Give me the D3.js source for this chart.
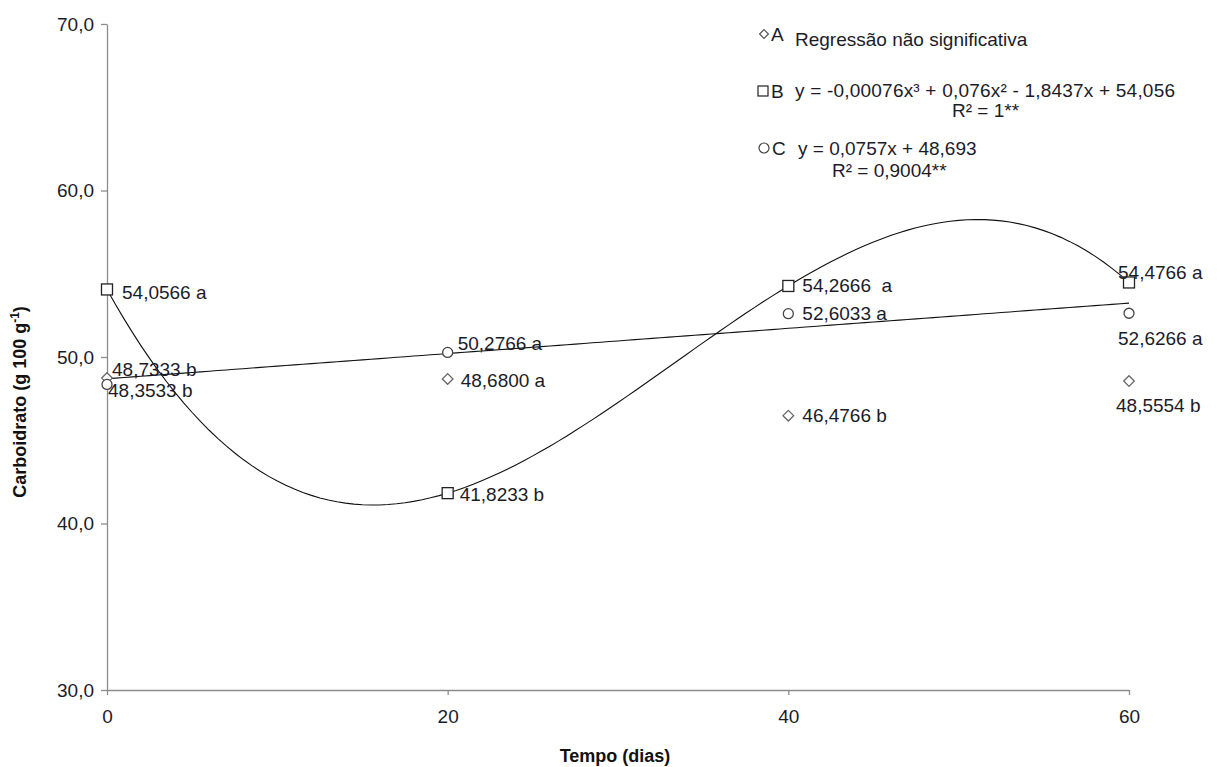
<!DOCTYPE html>
<html><head><meta charset="utf-8">
<script src="https://cdn.jsdelivr.net/npm/d3@7"></script>
<style>
body{margin:0;background:#fff;}
text{font-family:"Liberation Sans",Arial,sans-serif;}
</style></head>
<body><svg id="c" width="1221" height="767"></svg>
<script>
const days = [0, 20, 40, 60];
const seriesA = [48.7333, 48.6800, 46.4766, 48.5554];
const seriesB = [54.0566, 41.8233, 54.2666, 54.4766];
const seriesC = [48.3533, 50.2766, 52.6033, 52.6266];
const labelsA = ["48,7333 b", "48,6800 a", "46,4766 b", "48,5554 b"];
const labelsB = ["54,0566 a", "41,8233 b", "54,2666  a", "54,4766 a"];
const labelsC = ["48,3533 b", "50,2766 a", "52,6033 a", "52,6266 a"];
const yTicks = [30, 40, 50, 60, 70];
const xTicks = [0, 20, 40, 60];

const svg = d3.select("#c");
const x = d3.scaleLinear().domain([0, 60]).range([107, 1129]);
const y = d3.scaleLinear().domain([30, 70]).range([690, 24]);
const fmt = v => d3.format(".1f")(v).replace(".", ",");
const axisCol = "#8c8c8c";
const txtCol = "#1c1c28";
const FS = "19px";

// axes
const ya = svg.append("g").attr("transform", "translate(107,0)")
  .call(d3.axisLeft(y).tickValues(yTicks).tickFormat(fmt).tickSize(6).tickSizeOuter(0));
const xa = svg.append("g").attr("transform", "translate(0,690)")
  .call(d3.axisBottom(x).tickValues(xTicks).tickSize(5).tickSizeOuter(0));
[ya, xa].forEach(g => {
  g.select(".domain").attr("stroke", axisCol).attr("stroke-width", 1.3);
  g.selectAll(".tick line").attr("stroke", axisCol).attr("stroke-width", 1.3);
  g.selectAll(".tick text").attr("fill", txtCol).style("font-size", FS)
    .style("font-family", "Liberation Sans, Arial, sans-serif");
});
ya.selectAll(".tick text").attr("x", -13);
xa.selectAll(".tick text").attr("y", 20);

// regression fits (least squares)
function polyfit(xs, ys, deg) {
  const n = deg + 1;
  const A = [];
  for (let i = 0; i < n; i++) {
    A.push([]);
    for (let j = 0; j < n; j++) A[i].push(d3.sum(xs, xv => Math.pow(xv, i + j)));
    A[i].push(d3.sum(xs, (xv, k) => Math.pow(xv, i) * ys[k]));
  }
  for (let i = 0; i < n; i++) {
    let p = i;
    for (let r = i + 1; r < n; r++) if (Math.abs(A[r][i]) > Math.abs(A[p][i])) p = r;
    [A[i], A[p]] = [A[p], A[i]];
    for (let r = 0; r < n; r++) {
      if (r === i) continue;
      const f = A[r][i] / A[i][i];
      for (let c = i; c <= n; c++) A[r][c] -= f * A[i][c];
    }
  }
  return A.map((row, i) => row[n] / row[i]);
}
const coefB = polyfit(days, seriesB, 3);
const coefC = polyfit(days, seriesC, 1);
const evalP = (c, xv) => c.reduce((s, a, i) => s + a * Math.pow(xv, i), 0);
const xs = d3.range(0, 60.01, 0.5);
const line = d3.line().x(d => x(d[0])).y(d => y(d[1]));
svg.append("path").attr("d", line(xs.map(v => [v, evalP(coefB, v)])))
  .attr("fill", "none").attr("stroke", "#111").attr("stroke-width", 1.1);
svg.append("path").attr("d", line(xs.map(v => [v, evalP(coefC, v)])))
  .attr("fill", "none").attr("stroke", "#111").attr("stroke-width", 1.1);

// markers
const mk = svg.append("g").attr("fill", "#fff").attr("stroke", "#333").attr("stroke-width", 1.3);
days.forEach((d, i) => {
  mk.append("path").attr("d", d3.symbol(d3.symbolDiamond2 || d3.symbolDiamond, 72)())
    .attr("transform", `translate(${x(d)},${y(seriesA[i])})`).attr("stroke", "#666");
  mk.append("rect").attr("x", x(d) - 5.5).attr("y", y(seriesB[i]) - 5.5)
    .attr("width", 11).attr("height", 11).attr("stroke", "#222");
  mk.append("circle").attr("cx", x(d)).attr("cy", y(seriesC[i])).attr("r", 5).attr("stroke", "#444");
});

// data labels (offsets relative to markers)
const offA = [[5, -9], [13, 1], [14, 0], [-13, 24]];
const offB = [[15, 3], [12, 1], [14, -1], [-11, -10]];
const offC = [[1, 6], [10, -9], [14, 0], [-11, 25]];
const lab = svg.append("g").attr("fill", txtCol).style("font-size", FS);
function addLabels(vals, labels, off) {
  days.forEach((d, i) => {
    lab.append("text").attr("x", x(d) + off[i][0]).attr("y", y(vals[i]) + off[i][1])
      .attr("dy", "0.35em").style("white-space", "pre").text(labels[i]);
  });
}
addLabels(seriesA, labelsA, offA);
addLabels(seriesB, labelsB, offB);
addLabels(seriesC, labelsC, offC);

// legend
const lg = svg.append("g").attr("fill", txtCol).style("font-size", FS);
lg.append("path").attr("d", d3.symbol(d3.symbolDiamond2 || d3.symbolDiamond, 50)())
  .attr("transform", "translate(764,34)").attr("fill", "#fff").attr("stroke", "#555").attr("stroke-width", 1.2);
lg.append("text").attr("x", 771).attr("y", 34).attr("dy", "0.35em").text("A");
lg.append("text").attr("x", 795).attr("y", 39).attr("dy", "0.35em").text("Regressão não significativa");
lg.append("rect").attr("x", 758).attr("y", 86).attr("width", 10).attr("height", 10)
  .attr("fill", "#fff").attr("stroke", "#222").attr("stroke-width", 1.2);
lg.append("text").attr("x", 771).attr("y", 91).attr("dy", "0.35em").text("B");
lg.append("text").attr("x", 795).attr("y", 90).attr("dy", "0.35em").attr("textLength", 380)
  .text("y = -0,00076x³ + 0,076x² - 1,8437x + 54,056");
lg.append("text").attr("x", 952).attr("y", 110).attr("dy", "0.35em").text("R² = 1**");
lg.append("circle").attr("cx", 764).attr("cy", 148).attr("r", 5)
  .attr("fill", "#fff").attr("stroke", "#444").attr("stroke-width", 1.2);
lg.append("text").attr("x", 772).attr("y", 148).attr("dy", "0.35em").text("C");
lg.append("text").attr("x", 798).attr("y", 148).attr("dy", "0.35em").text("y = 0,0757x + 48,693");
lg.append("text").attr("x", 832).attr("y", 170).attr("dy", "0.35em").text("R² = 0,9004**");

// axis titles
svg.append("text").attr("transform", "translate(20,402) rotate(-90)")
  .attr("text-anchor", "middle").attr("dy", "0.35em").attr("fill", "#111")
  .style("font-size", "18px").style("font-weight", "bold")
  .html('Carboidrato (g 100 g<tspan dy="-7" font-size="12">-1</tspan><tspan dy="7">)</tspan>');
svg.append("text").attr("x", 615).attr("y", 756).attr("text-anchor", "middle").attr("dy", "0.35em")
  .attr("fill", "#111").style("font-size", "18px").style("font-weight", "bold").text("Tempo (dias)");
</script></body></html>
